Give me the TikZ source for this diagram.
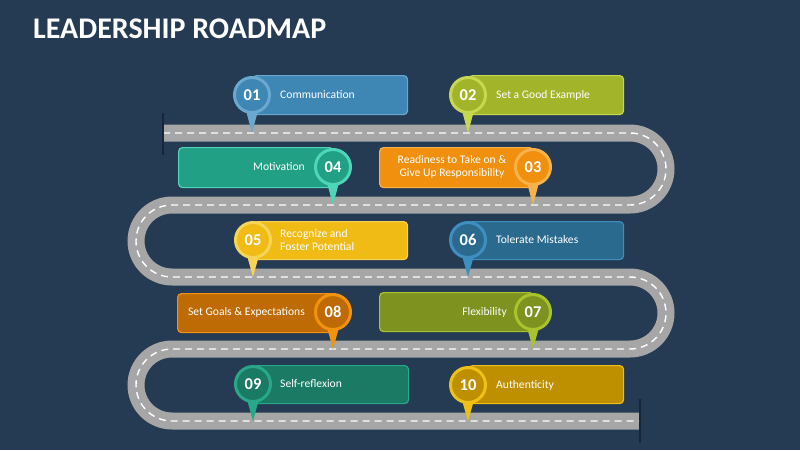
\documentclass[tikz,border=0pt]{standalone}
\usepackage{fontspec}
\setmainfont{Carlito}
\usetikzlibrary{calc}
\definecolor{bg}{HTML}{253A53}
\definecolor{roadgray}{HTML}{A6A6A6}
\definecolor{bardark}{HTML}{16253A}
\definecolor{fA}{HTML}{3E86B4}\definecolor{rA}{HTML}{6AA8D0}
\definecolor{fB}{HTML}{A2B52A}\definecolor{rB}{HTML}{C8D84E}
\definecolor{fC}{HTML}{F0900E}\definecolor{rC}{HTML}{F7B24C}
\definecolor{fD}{HTML}{22A085}\definecolor{rD}{HTML}{4FD6B8}
\definecolor{fE}{HTML}{EFBB14}\definecolor{rE}{HTML}{F6D458}
\definecolor{fF}{HTML}{2B6A8F}\definecolor{rF}{HTML}{3E8FBF}
\definecolor{fG}{HTML}{7E9220}\definecolor{rG}{HTML}{A9C22E}
\definecolor{fH}{HTML}{BE6B06}\definecolor{rH}{HTML}{F3920F}
\definecolor{fI}{HTML}{1A7A64}\definecolor{rI}{HTML}{27A889}
\definecolor{fJ}{HTML}{BE9000}\definecolor{rJ}{HTML}{F0C012}
\tikzset{
  card/.style n args={2}{rectangle, rounded corners=4pt, fill=#1, draw=#2, line width=1.2pt,
     minimum width=155pt, minimum height=39pt, inner sep=0pt, anchor=north west},
  num/.style n args={2}{circle, fill=#1, draw=#2, line width=3pt, minimum size=35pt, inner sep=0pt,
     text=white, font=\bfseries\fontsize{16.5}{16.5}\selectfont},
  lbl/.style={text=white, inner sep=0pt, font=\fontsize{11.6}{13.5}\selectfont},
  roadbase/.style={draw=roadgray, line width=17pt},
  roadline/.style={draw=white, line width=1.4pt, dash pattern=on 7pt off 5pt},
  endbar/.style={draw=bardark, line width=2.5pt}
}
\newcommand{\pinshape}[3]{\fill[#3] ($(#1.center)+(-7,12)$) -- (#2) -- ($(#1.center)+(7,12)$) -- cycle;}
\begin{document}
\begin{tikzpicture}[x=1pt,y=-1pt]
\fill[bg] (0,0) rectangle (800,450);
\useasboundingbox (0,0) rectangle (800,450);
\node[anchor=base west, inner sep=0pt, text=white, font=\bfseries\fontsize{30}{30}\selectfont] (title) at (33,38) {LEADERSHIP ROADMAP};
% road
\coordinate (rs) at (163,133);
\coordinate (re) at (640,421);
\def\roadpath{(rs) -- (630,133) arc[start angle=90,end angle=-90,radius=36pt] -- (172,205) arc[start angle=90,end angle=270,radius=36pt] -- (630,277) arc[start angle=90,end angle=-90,radius=36pt] -- (172,349) arc[start angle=90,end angle=270,radius=36pt] -- (re)}
\path[roadbase] \roadpath;
\path[roadline] \roadpath;
\draw[endbar] (163,113) -- (163,155);
\draw[endbar] (640,399) -- (640,443);
% tips
\coordinate (t1) at (252,133);
\coordinate (t2) at (468,133);
\coordinate (t3) at (533,205);
\coordinate (t4) at (333,205);
\coordinate (t5) at (253,277);
\coordinate (t6) at (468,277);
\coordinate (t7) at (533,349);
\coordinate (t8) at (333,349);
\coordinate (t9) at (253,421);
\coordinate (t10) at (468,421);
% cards
\node[card={fA}{rA}] (k1) at (252,75) {};
\node[card={fB}{rB}] (k2) at (468,75) {};
\node[card={fC}{rC}, minimum width=154pt, minimum height=40pt] (k3) at (379,147) {};
\node[card={fD}{rD}, minimum height=40pt] (k4) at (178,147) {};
\node[card={fE}{rE}, minimum width=154pt, minimum height=38pt] (k5) at (253,221) {};
\node[card={fF}{rF}, minimum height=38pt] (k6) at (468,221) {};
\node[card={fG}{rG}, minimum width=154pt] (k7) at (379,292) {};
\node[card={fH}{rH}, minimum width=156pt] (k8) at (177,293) {};
\node[card={fI}{rI}, minimum height=38pt] (k9) at (253,365) {};
\node[card={fJ}{rJ}, minimum height=38pt] (k10) at (468,365) {};
% labels
\node[lbl, anchor=west] (l1) at (280,95) {Communication};
\node[lbl, anchor=west] (l2) at (496,95) {Set a Good Example};
\node[lbl, align=center] (l3) at (452,167) {Readiness to Take on \&\\Give Up Responsibility};
\node[lbl, anchor=east] (l4) at (305,167) {Motivation};
\node[lbl, anchor=west, align=left] (l5) at (280,240) {Recognize and\\Foster Potential};
\node[lbl, anchor=west] (l6) at (496,240) {Tolerate Mistakes};
\node[lbl, anchor=east] (l7) at (507,312) {Flexibility};
\node[lbl, anchor=east] (l8) at (305,312) {Set Goals \& Expectations};
\node[lbl, anchor=west] (l9) at (280,384) {Self-reflexion};
\node[lbl, anchor=west] (l10) at (496,385) {Authenticity};
% pin positions
\coordinate (p1) at (252,95);
\coordinate (p2) at (468,95);
\coordinate (p3) at (533,167);
\coordinate (p4) at (333,167);
\coordinate (p5) at (253,240);
\coordinate (p6) at (468,240);
\coordinate (p7) at (533,312);
\coordinate (p8) at (333,312);
\coordinate (p9) at (253,384);
\coordinate (p10) at (468,385);
\pinshape{p1}{t1}{rA}
\pinshape{p2}{t2}{rB}
\pinshape{p3}{t3}{rC}
\pinshape{p4}{t4}{rD}
\pinshape{p5}{t5}{rE}
\pinshape{p6}{t6}{rF}
\pinshape{p7}{t7}{rG}
\pinshape{p8}{t8}{rH}
\pinshape{p9}{t9}{rI}
\pinshape{p10}{t10}{rJ}
\node[num={fA}{rA}] (c1) at (p1) {01};
\node[num={fB}{rB}] (c2) at (p2) {02};
\node[num={fC}{rC}] (c3) at (p3) {03};
\node[num={fD}{rD}] (c4) at (p4) {04};
\node[num={fE}{rE}] (c5) at (p5) {05};
\node[num={fF}{rF}] (c6) at (p6) {06};
\node[num={fG}{rG}] (c7) at (p7) {07};
\node[num={fH}{rH}] (c8) at (p8) {08};
\node[num={fI}{rI}] (c9) at (p9) {09};
\node[num={fJ}{rJ}] (c10) at (p10) {10};
\end{tikzpicture}
\end{document}
